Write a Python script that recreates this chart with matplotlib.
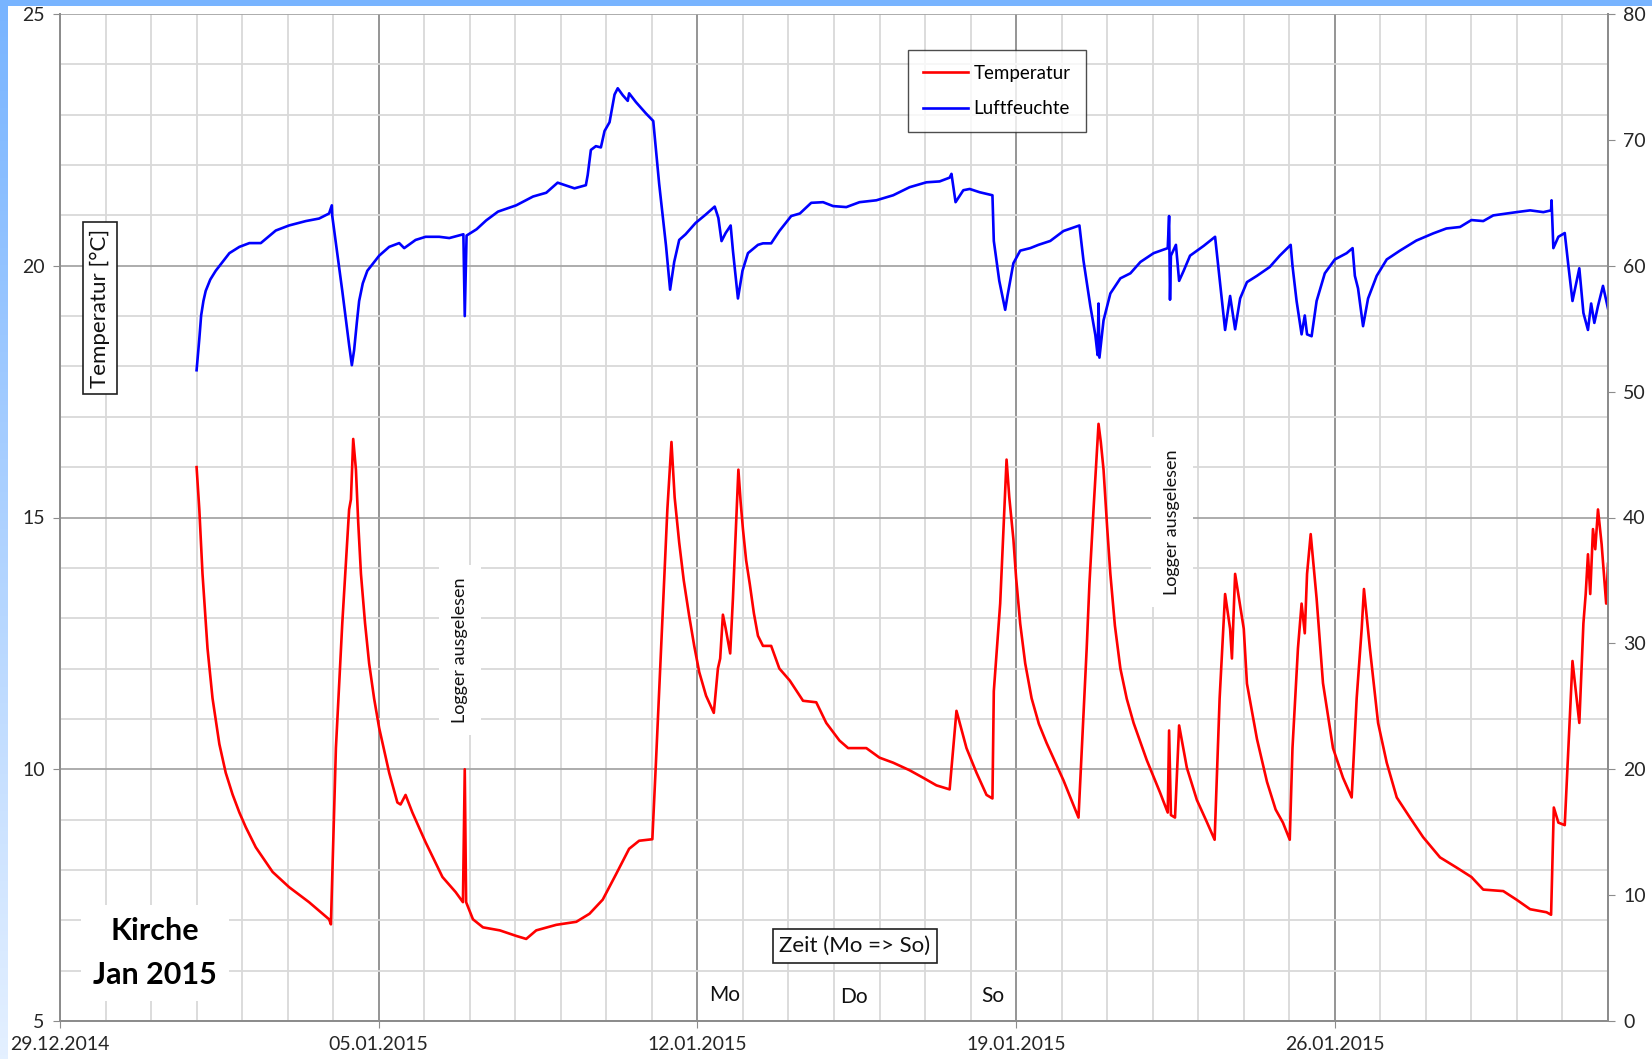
import numpy as np
import pandas as pd
import matplotlib
matplotlib.use('Agg')
import matplotlib.pyplot as plt
import matplotlib.dates as mdates
from matplotlib.ticker import MultipleLocator

plt.rcParams['font.family'] = ['Lato', 'DejaVu Sans']

start = pd.Timestamp('2014-12-29')

# Temperatur: days since 29.12.2014, degC
t_temp = [3.00, 3.06, 3.13, 3.24, 3.35, 3.50, 3.64, 3.79, 3.94, 4.08, 4.30, 4.67, 5.03,
          5.47, 5.91, 5.95,
          6.06, 6.20, 6.35, 6.39, 6.44, 6.50, 6.55, 6.61, 6.70, 6.79, 6.90, 7.01, 7.23,
          7.41, 7.48, 7.59,
          7.74, 8.03, 8.40, 8.69, 8.85, 8.89, 8.92, 9.07, 9.29, 9.66, 10.02, 10.24, 10.46,
          10.90, 11.34, 11.63, 11.92, 12.21, 12.50, 12.72, 13.01, 13.09, 13.23, 13.34,
          13.43, 13.50, 13.60, 13.70, 13.82, 13.93, 14.04, 14.19, 14.36, 14.45, 14.50,
          14.56, 14.62, 14.72,
          14.78, 14.90, 14.95, 15.00, 15.07, 15.15, 15.24, 15.33, 15.44, 15.62, 15.80,
          16.03, 16.32, 16.61,
          16.83, 17.12, 17.31, 17.71, 18.00, 18.30, 18.66, 18.96, 19.25, 19.54, 19.69,
          19.91, 20.13, 20.35, 20.48, 20.51, 20.65, 20.79, 20.85, 20.94, 21.00, 21.09,
          21.20, 21.34, 21.50, 21.67,
          22.04, 22.37, 22.55, 22.61, 22.70, 22.81, 22.86, 22.92, 23.00, 23.07, 23.17,
          23.29, 23.43, 23.58, 23.87,
          24.16, 24.33, 24.36, 24.40, 24.49, 24.58, 24.75, 24.97, 25.19, 25.36, 25.47,
          25.59, 25.70, 25.74, 25.81, 26.00, 26.07, 26.29, 26.51, 26.70, 26.86, 27.01,
          27.07, 27.19, 27.27, 27.34, 27.39, 27.47, 27.60, 27.74, 27.96, 28.18, 28.37,
          28.48, 28.59, 28.64, 28.77, 28.95, 29.14, 29.36, 29.65, 29.94, 30.31, 30.67,
          31.00, 31.26, 31.70, 31.99, 32.29, 32.65, 32.75, 32.81, 32.91, 33.05, 33.13,
          33.22, 33.37, 33.46, 33.51, 33.56, 33.61, 33.67, 33.72, 33.78, 33.86, 33.96,
          34.00]
temp = [16.0, 15.16, 13.88, 12.4, 11.41, 10.5, 9.93, 9.5, 9.14, 8.85, 8.45, 7.96, 7.66,
        7.36, 7.02, 6.92,
        10.42, 12.9, 15.16, 15.36, 16.56, 15.95, 14.9, 13.88, 12.9, 12.1, 11.4, 10.82, 9.93,
        9.34, 9.30, 9.49,
        9.14, 8.55, 7.86, 7.56, 7.36, 10.0, 7.36, 7.02, 6.86, 6.80, 6.69, 6.63, 6.80,
        6.91, 6.97, 7.13, 7.41, 7.91, 8.42, 8.58, 8.61, 10.15, 12.93, 15.16,
        16.50, 15.4, 14.50, 13.75, 13.04, 12.45, 11.93, 11.46, 11.12, 12.0, 12.2,
        13.07, 12.8, 12.3,
        13.39, 15.95, 15.3, 14.77, 14.15, 13.68, 13.1, 12.65, 12.45, 12.45, 12.0,
        11.76, 11.36, 11.33,
        10.92, 10.57, 10.42, 10.42, 10.23, 10.13, 9.98, 9.83, 9.68, 9.60, 11.16,
        10.42, 9.93, 9.49, 9.42, 11.55, 13.29, 16.15, 15.4, 14.57, 13.8, 12.89,
        12.1, 11.41, 10.9, 10.52,
        9.78, 9.04, 12.4, 13.68, 15.16, 16.86, 16.5, 15.95, 14.8, 13.88, 12.85,
        12.0, 11.4, 10.92, 10.18,
        9.54, 9.14, 10.77, 9.09, 9.04, 10.87, 10.03, 9.39, 8.95, 8.60, 11.41,
        13.48, 12.79, 12.2, 13.88, 12.79, 11.7, 10.6, 9.75, 9.2, 8.94, 8.60,
        10.42, 12.4, 13.29, 12.7, 13.88, 14.67, 13.39, 11.71, 10.42, 9.83, 9.44,
        11.41, 12.79, 13.58, 12.4, 10.92, 10.13, 9.44, 9.04, 8.65, 8.25, 8.05,
        7.86, 7.61, 7.58, 7.41, 7.22, 7.16, 7.11, 9.24, 8.94, 8.89, 10.42,
        12.15, 10.92, 12.9, 13.48, 14.27, 13.48, 14.77, 14.37, 15.16, 14.47, 13.29,
        14.08]

# Luftfeuchte: days since 29.12.2014, %
t_hum = [3.00, 3.06, 3.10, 3.15, 3.20, 3.30, 3.42, 3.72, 3.94, 4.16, 4.41, 4.74, 5.03,
         5.40, 5.69, 5.91,
         5.97, 5.98, 6.20, 6.35, 6.41, 6.46, 6.52, 6.57, 6.65, 6.75, 7.01, 7.23, 7.45,
         7.56, 7.81,
         8.03, 8.33, 8.55, 8.86, 8.89, 8.93, 9.15, 9.36, 9.62, 10.02, 10.39, 10.68,
         10.93, 11.30, 11.55, 11.59, 11.66, 11.77, 11.88, 11.96, 12.07, 12.18, 12.25,
         12.36, 12.47, 12.50, 12.65, 12.87, 13.03, 13.09, 13.16, 13.31, 13.40, 13.49,
         13.60, 13.74, 13.96, 14.18, 14.38, 14.46, 14.53, 14.62, 14.73, 14.78, 14.89,
         14.99, 15.11, 15.33, 15.44, 15.62, 15.80, 16.06, 16.25, 16.50, 16.76, 16.98,
         17.27, 17.56, 17.93, 18.30, 18.66, 19.03, 19.32, 19.54, 19.58, 19.67, 19.84,
         19.98, 20.20, 20.48, 20.51, 20.63, 20.76, 20.81, 20.94, 21.09, 21.31, 21.49,
         21.75, 22.04, 22.39, 22.48, 22.63, 22.74, 22.79, 22.81, 22.83, 22.92, 23.07,
         23.29, 23.51, 23.73, 24.02, 24.33, 24.36, 24.38, 24.40, 24.51, 24.58, 24.68,
         24.82, 25.12, 25.37, 25.45, 25.59, 25.70, 25.81, 25.92, 26.07, 26.29, 26.57,
         26.79, 27.03, 27.07, 27.16, 27.27, 27.34, 27.39, 27.49, 27.60, 27.78, 28.00,
         28.26, 28.39, 28.44, 28.51, 28.62, 28.73, 28.92, 29.14, 29.43, 29.79, 30.16,
         30.45, 30.75, 31.00, 31.26, 31.48, 31.77, 31.99, 32.29, 32.58, 32.75, 32.76,
         32.80, 32.91, 33.05, 33.13, 33.22, 33.37, 33.46, 33.56, 33.63, 33.70, 33.78,
         33.89, 34.00]
hum = [51.7, 54.2, 56.05, 57.2, 58.0, 58.9, 59.6, 61.0, 61.5, 61.8, 61.8, 62.8, 63.2,
       63.55, 63.75, 64.15,
       64.8, 63.95, 58.0, 53.7, 52.1, 53.3, 55.5, 57.2, 58.6, 59.6, 60.8, 61.5, 61.8,
       61.4, 62.05,
       62.3, 62.3, 62.2, 62.5, 56.0, 62.4, 62.9, 63.6, 64.3, 64.8, 65.5, 65.8,
       66.6, 66.15, 66.4, 67.2, 69.2, 69.5, 69.4, 70.7, 71.4, 73.6, 74.1,
       73.55, 73.1, 73.7, 73.0, 72.1, 71.5, 69.2, 66.5, 61.6, 58.1, 60.3,
       62.05, 62.5, 63.4, 64.06, 64.7, 63.8, 61.96, 62.6, 63.2, 61.2, 57.4,
       59.6, 61.0, 61.66, 61.78, 61.78, 62.76, 63.95, 64.15, 65.0, 65.05, 64.74,
       64.66, 65.05, 65.2, 65.6, 66.24, 66.63, 66.7, 67.0, 67.3, 65.05, 66.0,
       66.1, 65.84, 65.6, 61.97, 58.8, 56.5, 57.6, 60.2, 61.2, 61.4, 61.66,
       61.97, 62.76, 63.2, 60.4, 56.8, 54.5, 52.9, 57.0, 52.7, 55.66, 57.8,
       59.0, 59.4, 60.3, 61.0, 61.4, 63.95, 57.3, 60.8, 61.66, 58.8, 59.6,
       60.8, 61.58, 62.3, 59.6, 54.9, 57.6, 54.95, 57.4, 58.7, 59.2, 59.9,
       60.8, 61.66, 60.0, 57.2, 54.55, 56.05, 54.55, 54.4, 57.2, 59.4, 60.5,
       61.0, 61.4, 59.2, 58.2, 55.2, 57.4, 59.2, 60.5, 61.2, 62.0, 62.57,
       62.96, 63.08, 63.63, 63.55, 64.0, 64.15, 64.26, 64.4, 64.26, 64.4, 65.2,
       61.4, 62.3, 62.6, 60.0, 57.2, 59.8, 56.25, 54.9, 57.0, 55.46, 56.8,
       58.4, 56.6]

week_ticks = ['29.12.2014', '05.01.2015', '12.01.2015', '19.01.2015', '26.01.2015']
day_names = ['Mo', 'Do', 'So']

x_temp = start + pd.to_timedelta(t_temp, unit='D')
x_hum = start + pd.to_timedelta(t_hum, unit='D')

fig = plt.figure(figsize=(16.52, 10.59), dpi=100)

# blue frame at top / left edge
frame_top = fig.add_axes([0, 1 - 6 / 1059, 1, 6 / 1059])
frame_top.set_facecolor('#78b4ff')
frame_top.set_xticks([]); frame_top.set_yticks([])
for s in frame_top.spines.values():
    s.set_visible(False)
frame_left = fig.add_axes([0, 0, 8 / 1652, 1])
grad = np.linspace(0, 1, 256).reshape(-1, 1)
frame_left.imshow(grad, aspect='auto', cmap=matplotlib.colors.LinearSegmentedColormap.from_list(
    'fr', ['#78b4ff', '#e4f0ff']))
frame_left.axis('off')

ax = fig.add_axes([60 / 1652, 1 - 1021 / 1059, 1548 / 1652, 1007 / 1059])
ax2 = ax.twinx()

grid_light = '#d9d9d9'
grid_dark = '#8c8c8c'

ax.set_xlim(start, start + pd.Timedelta(days=34))
ax.set_ylim(5, 25)
ax2.set_ylim(0, 80)

ax.set_xticks(pd.to_datetime(week_ticks, format='%d.%m.%Y'))
ax.set_xticklabels(week_ticks)
ax.xaxis.set_minor_locator(mdates.DayLocator())
ax.yaxis.set_major_locator(MultipleLocator(5))
ax.yaxis.set_minor_locator(MultipleLocator(1))
ax2.yaxis.set_major_locator(MultipleLocator(10))

ax.grid(which='minor', color=grid_light, linewidth=1.3)
ax.grid(which='major', axis='y', color='#a6a6a6', linewidth=1.3)
ax.grid(which='major', axis='x', color=grid_dark, linewidth=1.3)
ax.set_axisbelow(True)

ax.tick_params(which='major', direction='out', length=5, color=grid_dark,
               labelsize=14, labelcolor='#262626', pad=6)
ax.tick_params(which='minor', length=0)
ax2.tick_params(which='major', direction='out', length=5, color=grid_dark,
                labelsize=14, labelcolor='#262626', pad=6)
for a in (ax, ax2):
    for s in a.spines.values():
        s.set_color(grid_dark)
        s.set_linewidth(1.3)
    a.spines['top'].set_visible(False)

l1, = ax.plot(x_temp, temp, color='#ff0000', linewidth=1.9, label='Temperatur')
l2, = ax2.plot(x_hum, hum, color='#0000ff', linewidth=1.9, label='Luftfeuchte')

leg = ax2.legend(handles=[l1, l2], loc='upper left', bbox_to_anchor=(0.5478, 0.9647),
                 borderaxespad=0, fancybox=False, edgecolor='#202020', fontsize=13.5,
                 handlelength=2.4, labelspacing=1.0, borderpad=0.8, handletextpad=0.3)
leg.get_frame().set_linewidth(1.0)

ax2.text(0.0258, 0.708, 'Temperatur [°C]', transform=ax2.transAxes, rotation=90,
         ha='center', va='center', fontsize=16, color='#111111',
         bbox=dict(boxstyle='square,pad=0.3', facecolor='white', edgecolor='#202020', linewidth=1.2))
ax2.text(0.0614, 0.0675, 'Kirche\nJan 2015', transform=ax2.transAxes, ha='center',
         va='center', fontsize=22, fontweight='bold', linespacing=1.7,
         bbox=dict(boxstyle='square,pad=0.4', facecolor='white', edgecolor='none'))
ax2.text(0.5136, 0.0745, 'Zeit (Mo => So)', transform=ax2.transAxes, ha='center',
         va='center', fontsize=16, color='#111111',
         bbox=dict(boxstyle='square,pad=0.3', facecolor='white', edgecolor='#202020', linewidth=1.2))
for name, xf, yf in zip(day_names, [0.4296, 0.5129, 0.6027], [0.0258, 0.0238, 0.0248]):
    ax2.text(xf, yf, name, transform=ax2.transAxes, ha='center', va='center',
             fontsize=15, color='#111111')
for xf, yf in [(0.2584, 0.3684), (0.7183, 0.4955)]:
    ax2.text(xf, yf, 'Logger ausgelesen', transform=ax2.transAxes, rotation=90,
             ha='center', va='center', fontsize=13, color='#111111',
             bbox=dict(boxstyle='square,pad=0.7', facecolor='white', edgecolor='none'))

fig.savefig('out.png', dpi=100)
